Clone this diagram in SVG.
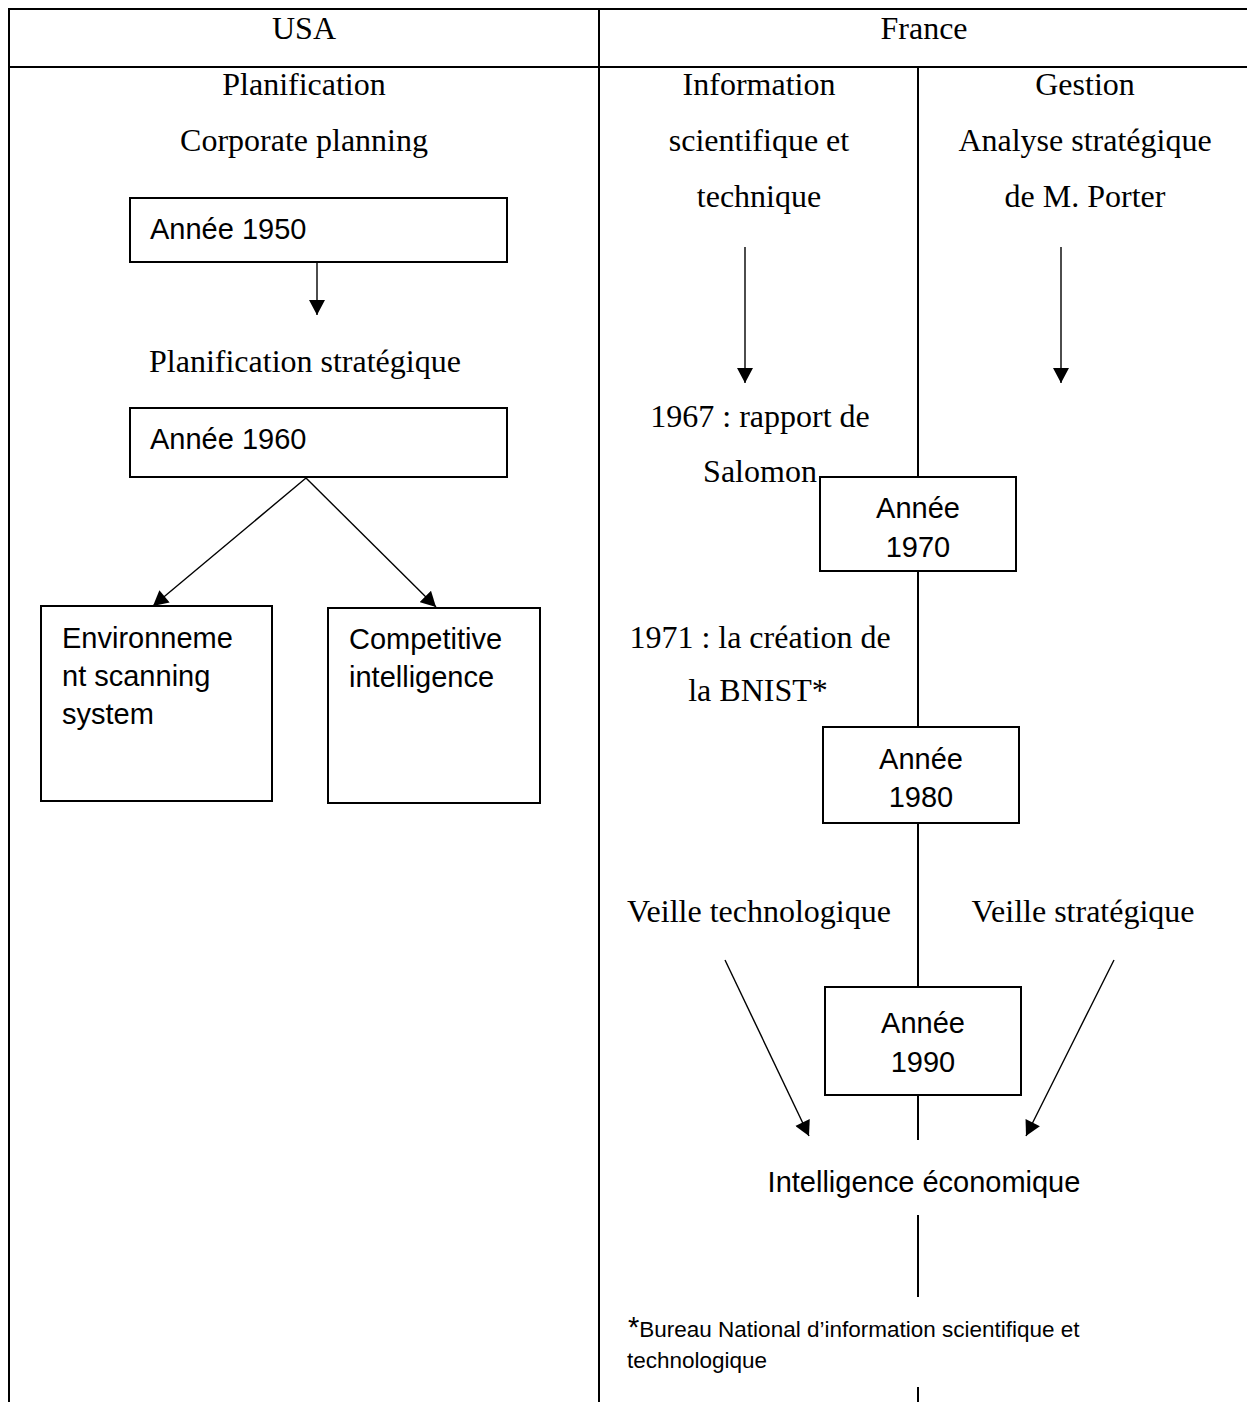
<svg xmlns="http://www.w3.org/2000/svg" width="1247" height="1402" viewBox="0 0 1247 1402">
  <style>
    .serif { font-family: "Liberation Serif", "Times New Roman", serif; font-size: 32px; fill: #000; }
    .sans { font-family: "Liberation Sans", Arial, sans-serif; font-size: 29px; fill: #000; }
    .note { font-family: "Liberation Sans", Arial, sans-serif; font-size: 22.5px; fill: #000; }
    .mid { text-anchor: middle; }
    .grid { stroke: #000; stroke-width: 2; fill: none; }
    .box { stroke: #000; stroke-width: 2; fill: #fff; }
    .arrow { stroke: #000; stroke-width: 1.4; fill: none; marker-end: url(#head); }
    .axis { stroke: #000; stroke-width: 2; fill: none; }
  </style>
  <defs>
    <marker id="head" markerUnits="userSpaceOnUse" markerWidth="16" markerHeight="16" viewBox="0 0 15 16" refX="15" refY="8" orient="auto">
      <path d="M0,0 L15,8 L0,16 z" fill="#000"/>
    </marker>
  </defs>

  <rect width="1247" height="1402" fill="#fff"/>

  <!-- table frame -->
  <g id="table">
    <line class="grid" x1="9" y1="9" x2="1247" y2="9"/>
    <line class="grid" x1="9" y1="67" x2="1247" y2="67"/>
    <line class="grid" x1="9" y1="8" x2="9" y2="1402"/>
    <line class="grid" x1="599" y1="8" x2="599" y2="1402"/>
    <text class="serif mid" x="304" y="39">USA</text>
    <text class="serif mid" x="924" y="39">France</text>
  </g>

  <!-- USA column headings -->
  <g id="usa-heading">
    <text class="serif mid" x="304" y="95">Planification</text>
    <text class="serif mid" x="304" y="151">Corporate planning</text>
  </g>
  <g id="planif-strategique">
    <text class="serif" x="149" y="372">Planification stratégique</text>
  </g>

  <!-- USA nodes -->
  <g id="annee-1950">
    <rect class="box" x="130" y="198" width="377" height="64"/>
    <text class="sans" x="150" y="239">Année 1950</text>
  </g>
  <g id="annee-1960">
    <rect class="box" x="130" y="408" width="377" height="69"/>
    <text class="sans" x="150" y="449">Année 1960</text>
  </g>
  <g id="environnement">
    <rect class="box" x="41" y="606" width="231" height="195"/>
    <text class="sans" x="62" y="648">Environneme</text>
    <text class="sans" x="62" y="686">nt scanning</text>
    <text class="sans" x="62" y="724">system</text>
  </g>
  <g id="competitive">
    <rect class="box" x="328" y="608" width="212" height="195"/>
    <text class="sans" x="349" y="649">Competitive</text>
    <text class="sans" x="349" y="687">intelligence</text>
  </g>

  <!-- France column headings -->
  <g id="information">
    <text class="serif mid" x="759" y="95">Information</text>
    <text class="serif mid" x="759" y="151">scientifique et</text>
    <text class="serif mid" x="759" y="207">technique</text>
  </g>
  <g id="gestion">
    <text class="serif mid" x="1085" y="95">Gestion</text>
    <text class="serif mid" x="1085" y="151">Analyse stratégique</text>
    <text class="serif mid" x="1085" y="207">de M. Porter</text>
  </g>

  <!-- France events -->
  <g id="rapport-salomon">
    <text class="serif mid" x="760" y="427">1967 : rapport de</text>
    <text class="serif mid" x="760" y="482">Salomon</text>
  </g>
  <g id="creation-bnist">
    <text class="serif mid" x="760" y="648">1971 : la création de</text>
    <text class="serif mid" x="758" y="701">la BNIST*</text>
  </g>
  <g id="veille-techno">
    <text class="serif mid" x="759" y="922">Veille technologique</text>
  </g>
  <g id="veille-strat">
    <text class="serif mid" x="1083" y="922">Veille stratégique</text>
  </g>

  <!-- France time axis -->
  <g id="axis">
    <line class="axis" x1="918" y1="67" x2="918" y2="477"/>
    <line class="axis" x1="918" y1="571" x2="918" y2="727"/>
    <line class="axis" x1="918" y1="823" x2="918" y2="987"/>
    <line class="axis" x1="918" y1="1095" x2="918" y2="1140"/>
    <line class="axis" x1="918" y1="1215" x2="918" y2="1297"/>
    <line class="axis" x1="918" y1="1387" x2="918" y2="1402"/>
  </g>

  <g id="annee-1970">
    <rect class="box" x="820" y="477" width="196" height="94"/>
    <text class="sans mid" x="918" y="518">Année</text>
    <text class="sans mid" x="918" y="557">1970</text>
  </g>
  <g id="annee-1980">
    <rect class="box" x="823" y="727" width="196" height="96"/>
    <text class="sans mid" x="921" y="769">Année</text>
    <text class="sans mid" x="921" y="807">1980</text>
  </g>
  <g id="annee-1990">
    <rect class="box" x="825" y="987" width="196" height="108"/>
    <text class="sans mid" x="923" y="1033">Année</text>
    <text class="sans mid" x="923" y="1072">1990</text>
  </g>
  <g id="intelligence-economique">
    <text class="sans mid" x="924" y="1192">Intelligence économique</text>
  </g>

  <!-- footnote -->
  <g id="footnote">
    <text class="note" x="628" y="1337"><tspan font-size="29">*</tspan>Bureau National d’information scientifique et</text>
    <text class="note" x="627" y="1368">technologique</text>
  </g>

  <!-- connectors -->
  <g id="connectors">
    <line class="arrow" x1="317" y1="262" x2="317" y2="315"/>
    <line class="arrow" x1="306" y1="478" x2="153" y2="606"/>
    <line class="arrow" x1="306" y1="478" x2="436" y2="607"/>
    <line class="arrow" x1="745" y1="247" x2="745" y2="383"/>
    <line class="arrow" x1="1061" y1="247" x2="1061" y2="383"/>
    <line class="arrow" x1="725" y1="960" x2="809" y2="1136"/>
    <line class="arrow" x1="1114" y1="960" x2="1026" y2="1136"/>
  </g>
</svg>
